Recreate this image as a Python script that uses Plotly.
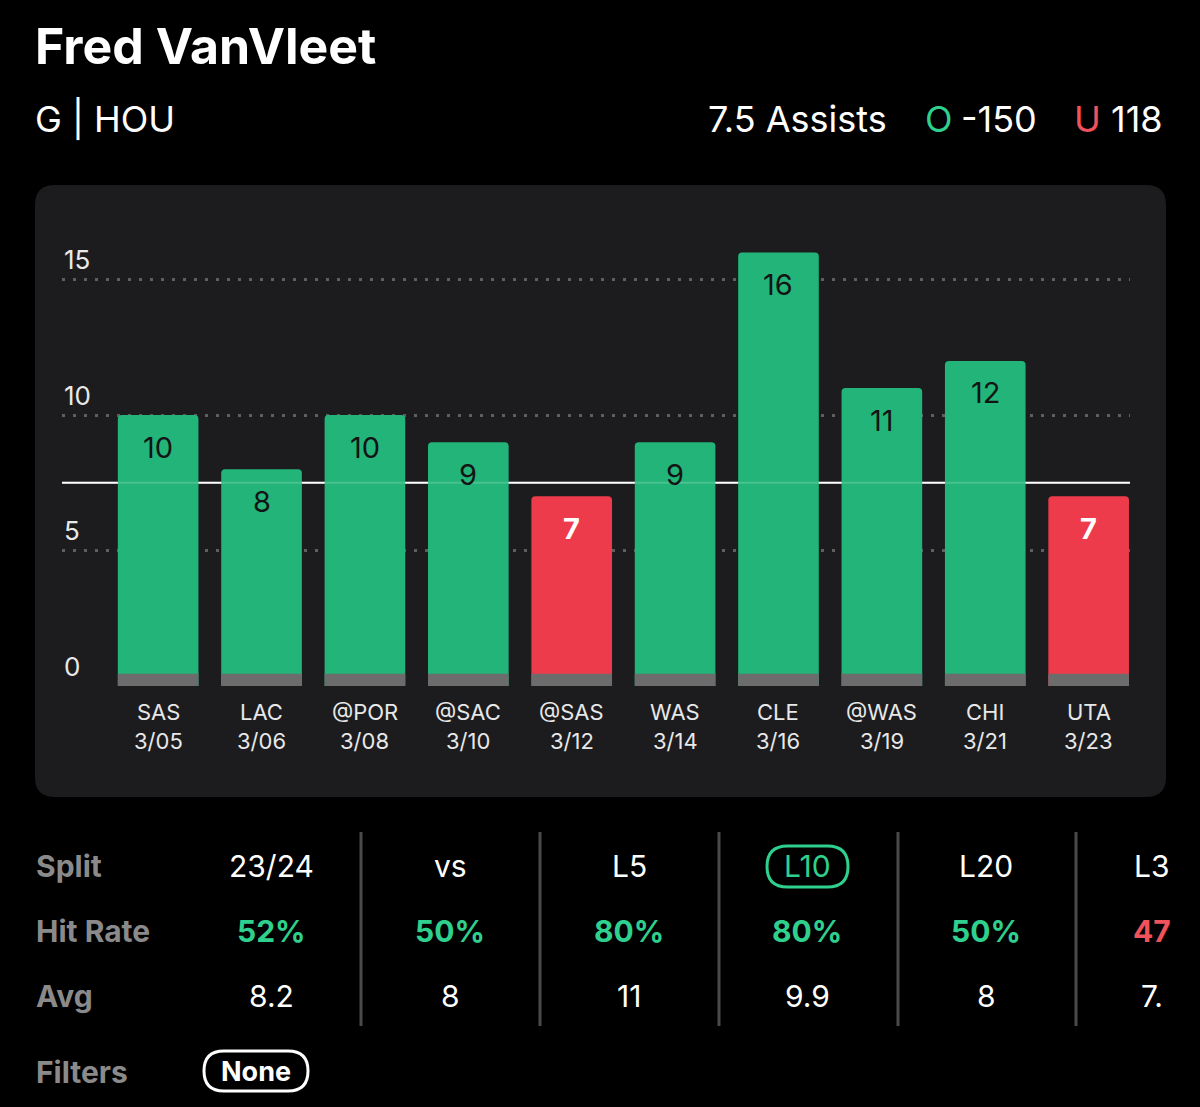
import plotly.graph_objects as go

# ---- data ----
opponents = ["SAS", "LAC", "@POR", "@SAC", "@SAS", "WAS", "CLE", "@WAS", "CHI", "UTA"]
dates = ["3/05", "3/06", "3/08", "3/10", "3/12", "3/14", "3/16", "3/19", "3/21", "3/23"]
assists = [10, 8, 10, 9, 7, 9, 16, 11, 12, 7]
line_value = 7.5
y_ticks = [0, 5, 10, 15]

player = "Fred VanVleet"
subtitle = "G | HOU"
prop_label = "7.5 Assists"
over_odds = "-150"
under_odds = "118"

split_labels = ["23/24", "vs", "L5", "L10", "L20", "L3"]
hit_rates = ["52%", "50%", "80%", "80%", "50%", "47"]
hit_colors_flag = [True, True, True, True, True, False]
avgs = ["8.2", "8", "11", "9.9", "8", "7."]

# ---- style ----
GREEN = "#22b479"
RED = "#ee3b4b"
TXT_GREEN = "#2fd08d"
TXT_RED = "#f0525c"
PANEL = "#1c1c1f"
GRAY_BASE = "#6c6c6c"
FONT = "Inter"

W, H = 1200, 1107
L, R, T, B = 62, 1130, 239, 686


def px(x):
    return (x - L) / (R - L)


def py(y):
    return (B - y) / (B - T)


def txt(x, y, text, size, color, xanchor="center", yanchor="middle"):
    return dict(x=px(x), y=py(y), xref="paper", yref="paper", text=text, showarrow=False,
                xanchor=xanchor, yanchor=yanchor,
                font=dict(family=FONT, size=size, color=color))


x_idx = list(range(len(opponents)))
colors = [GREEN if v > line_value else RED for v in assists]
base_h = [0.45] * len(assists)

fig = go.Figure()
fig.add_trace(go.Bar(
    x=x_idx, y=assists, marker=dict(color=colors, line=dict(width=0), cornerradius=4),
    width=0.78, hoverinfo="skip", showlegend=False,
))
fig.add_trace(go.Bar(
    x=x_idx, y=base_h, marker=dict(color=GRAY_BASE, line=dict(width=0)),
    width=0.78, hoverinfo="skip", showlegend=False,
))

shapes = []
# rounded panel
x0, x1, y0, y1 = px(35), px(1166), py(797), py(185)
rx = 20 / (R - L)
ry = 20 / (B - T)
path = (f"M {x0+rx},{y0} L {x1-rx},{y0} Q {x1},{y0} {x1},{y0+ry} "
        f"L {x1},{y1-ry} Q {x1},{y1} {x1-rx},{y1} L {x0+rx},{y1} "
        f"Q {x0},{y1} {x0},{y1-ry} L {x0},{y0+ry} Q {x0},{y0} {x0+rx},{y0} Z")
shapes.append(dict(type="path", path=path, xref="paper", yref="paper",
                   fillcolor=PANEL, line=dict(width=0), layer="below"))
# threshold line
shapes.append(dict(type="line", xref="paper", yref="y", x0=0, x1=1, y0=line_value, y1=line_value,
                   line=dict(color="white", width=2), layer="below"))
shapes.append(dict(type="line", xref="paper", yref="y", x0=0, x1=1, y0=line_value, y1=line_value,
                   line=dict(color="rgba(255,255,255,0.18)", width=2), layer="above"))

annotations = []
# y tick labels
for t in y_ticks:
    annotations.append(dict(x=0, xref="paper", y=t, yref="y", yshift=20, text=str(t),
                            showarrow=False, xanchor="left", yanchor="middle",
                            font=dict(family=FONT, size=26, color="#e8e8e8")))
# bar value labels
for i, v in enumerate(assists):
    red = v <= line_value
    annotations.append(dict(x=i, xref="x", y=v, yref="y", yshift=-32,
                            text=f"<b>{v}</b>" if red else str(v), showarrow=False,
                            xanchor="center", yanchor="middle",
                            font=dict(family=FONT, size=29, color="white" if red else "#141414")))
# x labels
for i, (o, d) in enumerate(zip(opponents, dates)):
    annotations.append(dict(x=i, xref="x", y=0, yref="y", yshift=-26, text=o, showarrow=False,
                            xanchor="center", yanchor="middle",
                            font=dict(family=FONT, size=22, color="#e8e8e8")))
    annotations.append(dict(x=i, xref="x", y=0, yref="y", yshift=-55, text=d, showarrow=False,
                            xanchor="center", yanchor="middle",
                            font=dict(family=FONT, size=22, color="#e8e8e8")))

# header
annotations.append(txt(33, 46, f"<b>{player}</b>", 50, "white", xanchor="left"))
annotations.append(txt(33, 119, subtitle, 36, "white", xanchor="left"))
annotations.append(txt(889, 119, prop_label, 36, "white", xanchor="right"))
annotations.append(txt(939, 119, "O", 36, TXT_GREEN))
annotations.append(txt(1039, 119, over_odds, 36, "white", xanchor="right"))
annotations.append(txt(1087, 119, "U", 36, TXT_RED))
annotations.append(txt(1165, 119, under_odds, 36, "white", xanchor="right"))

# table
row_y = [866, 931, 996]
row_names = ["Split", "Hit Rate", "Avg"]
for name, yy in zip(row_names, row_y):
    annotations.append(txt(34, yy, f"<b>{name}</b>", 30, "#8a8a8a", xanchor="left"))
annotations.append(txt(34, 1072, "<b>Filters</b>", 30, "#8a8a8a", xanchor="left"))
col_x = [271, 450, 629, 807, 986, 1152]
for j, cx in enumerate(col_x):
    annotations.append(txt(cx, row_y[0], split_labels[j], 30,
                           TXT_GREEN if split_labels[j] == "L10" else "white"))
    annotations.append(txt(cx, row_y[1], f"<b>{hit_rates[j]}</b>", 30,
                           TXT_GREEN if hit_colors_flag[j] else TXT_RED))
    annotations.append(txt(cx, row_y[2], avgs[j], 30, "white"))
for dx in [361, 540, 719, 898, 1076]:
    shapes.append(dict(type="line", xref="paper", yref="paper", x0=px(dx), x1=px(dx),
                       y0=py(832), y1=py(1026), line=dict(color="#4a4a4a", width=3)))


def pill(xa, xb, ya, yb, color):
    r = (yb - ya) / 2
    X0, X1 = px(xa), px(xb)
    Y0, Y1 = py(yb), py(ya)
    rxp = r / (R - L)
    ryp = r / (B - T)
    p = (f"M {X0+rxp},{Y0} L {X1-rxp},{Y0} Q {X1},{Y0} {X1},{Y0+ryp} L {X1},{Y1-ryp} "
         f"Q {X1},{Y1} {X1-rxp},{Y1} L {X0+rxp},{Y1} Q {X0},{Y1} {X0},{Y1-ryp} "
         f"L {X0},{Y0+ryp} Q {X0},{Y0} {X0+rxp},{Y0} Z")
    return dict(type="path", path=p, xref="paper", yref="paper",
                line=dict(color=color, width=3), fillcolor="rgba(0,0,0,0)")


shapes.append(pill(767, 848, 846, 887, TXT_GREEN))
shapes.append(pill(204, 308, 1051, 1091, "white"))
annotations.append(txt(256, 1071, "<b>None</b>", 27, "white"))

fig.update_layout(
    width=W, height=H, barmode="overlay",
    margin=dict(l=L, r=W - R, t=T, b=H - B, pad=0),
    paper_bgcolor="black", plot_bgcolor="rgba(0,0,0,0)",
    xaxis=dict(range=[-0.93, 9.4], showgrid=False, zeroline=False, showticklabels=False,
               showline=False, fixedrange=True),
    yaxis=dict(range=[0, 16.5], tickvals=y_ticks, showticklabels=False, showgrid=True,
               gridcolor="#5e5e5e", gridwidth=3, griddash="3px,8px", zeroline=False,
               showline=False, fixedrange=True),
    shapes=shapes, annotations=annotations, showlegend=False,
)

fig.write_html("out.html", config={"displayModeBar": False},
               post_script="document.body.style.margin='0';document.body.style.background='black';")
